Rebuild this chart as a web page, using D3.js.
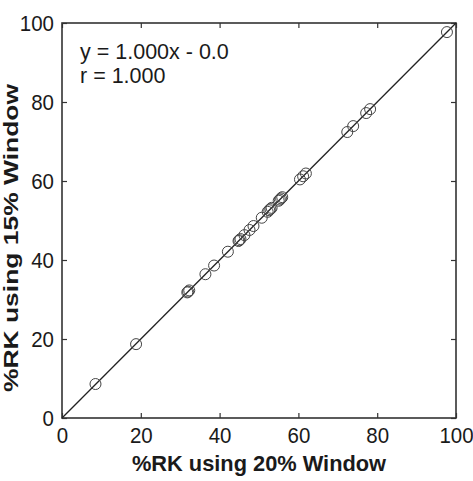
<!DOCTYPE html>
<html>
<head>
<meta charset="utf-8">
<script src="https://cdn.jsdelivr.net/npm/d3@7"></script>
<style>
  body { margin: 0; background: #fff; }
  text { font-family: "Liberation Sans", Arial, sans-serif; fill: #1a1a1a; }
</style>
</head>
<body>
<div id="chart"></div>
<script>
// %RK values, 20% window (x) vs 15% window (y)
const rk20 = [8.5, 18.8, 31.8, 32.0, 32.3, 36.4, 38.6, 42.1, 44.8, 45.0, 45.3, 46.3, 47.6, 48.6,
  50.7, 52.2, 52.6, 52.9, 53.2, 55.0, 55.3, 55.6, 55.9, 60.4, 61.2, 61.9, 72.4, 73.9, 77.2, 78.2, 97.7];
const rk15 = [8.6, 18.7, 31.8, 32.0, 32.3, 36.4, 38.6, 42.1, 44.8, 45.0, 45.3, 46.3, 47.6, 48.6,
  50.7, 52.2, 52.6, 52.9, 53.2, 55.0, 55.3, 55.6, 55.9, 60.4, 61.2, 61.9, 72.4, 73.9, 77.2, 78.2, 97.7];
const tickVals = [0, 20, 40, 60, 80, 100];
const fit = {slope: 1.0, intercept: 0.0, r: 1.0};

const width = 473, height = 481;
const margin = {top: 23, right: 17, bottom: 63, left: 62};
const sy = 1.1; // text in the source is slightly stretched vertically

const svg = d3.select("#chart")
  .append("svg")
  .attr("width", width)
  .attr("height", height);

const x = d3.scaleLinear().domain([0, 100]).range([margin.left, width - margin.right]);
const y = d3.scaleLinear().domain([0, 100]).range([height - margin.bottom, margin.top]);

// Axes (ticks point inward)
const gx = svg.append("g")
  .attr("transform", `translate(0,${y(0)})`)
  .call(d3.axisBottom(x).tickValues(tickVals).tickSizeInner(-5).tickSizeOuter(0).tickPadding(8));
const gy = svg.append("g")
  .attr("transform", `translate(${x(0)},0)`)
  .call(d3.axisLeft(y).tickValues(tickVals).tickSizeInner(-5).tickSizeOuter(0).tickPadding(8));
svg.append("g")
  .attr("transform", `translate(0,${y(100)})`)
  .call(d3.axisTop(x).tickValues(tickVals).tickSizeInner(-5).tickSizeOuter(0).tickFormat(""));
svg.append("g")
  .attr("transform", `translate(${x(100)},0)`)
  .call(d3.axisRight(y).tickValues(tickVals).tickSizeInner(-5).tickSizeOuter(0).tickFormat(""));

svg.selectAll(".tick line").attr("stroke", "#333").attr("stroke-width", 1.2);
svg.selectAll(".domain").attr("stroke", "none");

[gx, gy].forEach(g => g.selectAll("text")
  .attr("font-size", "20.5px")
  .attr("fill", "#1a1a1a")
  .attr("font-family", "Liberation Sans, Arial, sans-serif")
  .attr("transform", `scale(1,${sy})`));

// Box
svg.append("rect")
  .attr("x", x(0))
  .attr("y", y(100))
  .attr("width", x(100) - x(0))
  .attr("height", y(0) - y(100))
  .attr("fill", "none")
  .attr("stroke", "#333")
  .attr("stroke-width", 1.6);

// Fit line
svg.append("line")
  .attr("x1", x(0))
  .attr("y1", y(fit.intercept))
  .attr("x2", x(100))
  .attr("y2", y(fit.slope * 100 + fit.intercept))
  .attr("stroke", "#222")
  .attr("stroke-width", 1.3);

// Points
svg.selectAll("circle.pt")
  .data(rk20.map((v, i) => ({x: v, y: rk15[i]})))
  .enter()
  .append("circle")
  .attr("class", "pt")
  .attr("cx", d => x(d.x))
  .attr("cy", d => y(d.y))
  .attr("r", 5.5)
  .attr("fill", "none")
  .attr("stroke", "#444")
  .attr("stroke-width", 1);

// Fit annotation
svg.append("text")
  .attr("x", 80)
  .attr("y", 59)
  .attr("font-size", "21.5px")
  .text(`y = ${fit.slope.toFixed(3)}x - ${Math.abs(fit.intercept).toFixed(1)}`);
svg.append("text")
  .attr("x", 80)
  .attr("y", 83)
  .attr("font-size", "21.5px")
  .text(`r = ${fit.r.toFixed(3)}`);

// Axis titles
svg.append("text")
  .attr("transform", `translate(${(x(0) + x(100)) / 2},471) scale(1,1.05)`)
  .attr("text-anchor", "middle")
  .attr("font-size", "21.8px")
  .attr("font-weight", "bold")
  .text("%RK using 20% Window");

svg.append("text")
  .attr("transform", "translate(18,238) rotate(-90)")
  .attr("text-anchor", "middle")
  .attr("font-size", "20.5px")
  .attr("font-weight", "bold")
  .attr("textLength", 308)
  .attr("lengthAdjust", "spacingAndGlyphs")
  .text("%RK using 15% Window");
</script>
</body>
</html>
